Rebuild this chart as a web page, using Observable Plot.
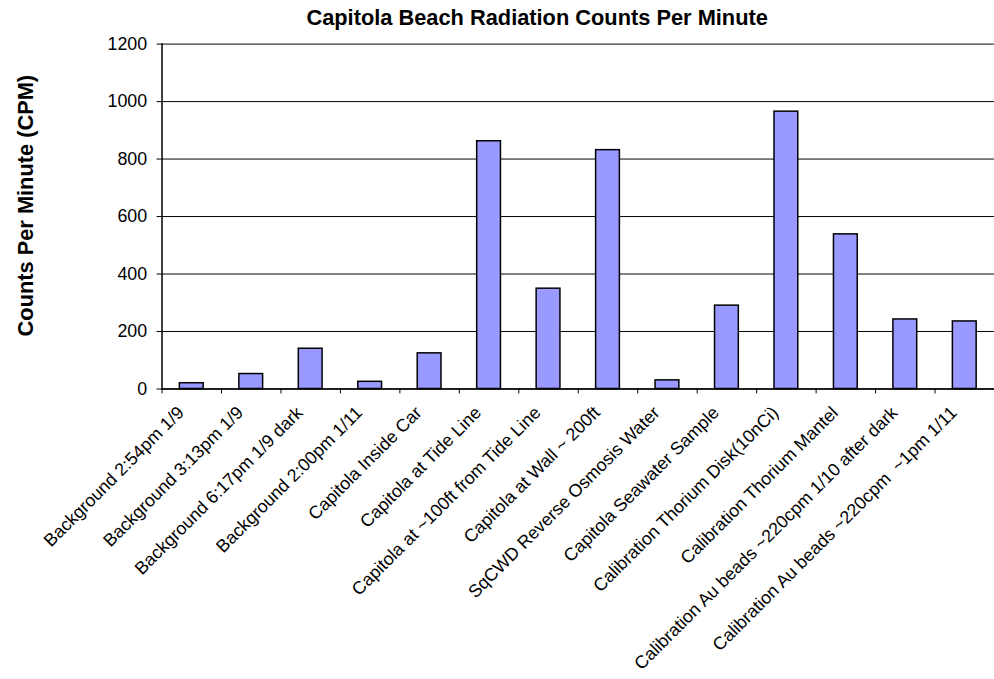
<!DOCTYPE html>
<html>
<head>
<meta charset="utf-8">
<script src="https://cdn.jsdelivr.net/npm/d3@7"></script>
<script src="https://cdn.jsdelivr.net/npm/@observablehq/plot@0.6"></script>
<style>
  html, body { margin: 0; padding: 0; background: #fff; overflow: hidden; }
  #chart svg text { white-space: pre; }
</style>
</head>
<body>
<div id="chart"></div>
<script>
const titleText = "Capitola Beach Radiation Counts Per Minute";
const yLabelText = "Counts Per Minute (CPM)";
const categories = [
  "Background 2:54pm 1/9",
  "Background 3:13pm 1/9",
  "Background 6:17pm 1/9 dark",
  "Background 2:00pm 1/11",
  "Capitola Inside Car",
  "Capitola at Tide Line",
  "Capitola at ~100ft from Tide Line",
  "Capitola at Wall ~ 200ft",
  "SqCWD Reverse Osmosis Water",
  "Capitola Seawater Sample",
  "Calibration Thorium Disk(10nCi)",
  "Calibration Thorium Mantel",
  "Calibration Au beads ~220cpm 1/10 after dark",
  "Calibration Au beads ~220cpm  ~1pm 1/11"
];
const cpm = [20, 52, 140, 25, 124, 862, 349, 831, 30, 290, 965, 538, 242, 235];
const yTicks = [0, 200, 400, 600, 800, 1000, 1200];

const data = categories.map((c, i) => ({label: c, cpm: cpm[i]}));

const W = 1003, H = 679, ML = 163, MR = 0, MT = 44, MB = 287;
const band = (W - ML - MR) / categories.length;

const chart = Plot.plot({
  width: W,
  height: H,
  marginLeft: ML,
  marginRight: MR,
  marginTop: MT,
  marginBottom: MB,
  style: {fontFamily: "'Liberation Sans', Arial, sans-serif", fontSize: "18px", color: "#000", background: "#fff", overflow: "visible"},
  x: {domain: categories, paddingInner: 0.6, paddingOuter: 0.3, axis: null},
  y: {domain: [0, 1200], axis: null},
  marks: [
    Plot.gridY(yTicks, {stroke: "#000", strokeOpacity: 1, strokeWidth: 1}),
    Plot.barY(data, {x: "label", y: "cpm", fill: "#9999FF", stroke: "#000", strokeWidth: 1.5}),
    Plot.frame({anchor: "left", stroke: "#000", strokeWidth: 1.5}),
    Plot.ruleY([0], {stroke: "#000", strokeWidth: 1.5}),
    Plot.axisY(yTicks, {tickSize: 5, tickPadding: 10, fontSize: 18, stroke: "#000", label: null, tickFormat: d => String(d)}),
    Plot.axisX({tickSize: 5, dx: -band / 2, tickFormat: () => "", stroke: "#000", label: null}),
    Plot.text(categories, {x: d => d, frameAnchor: "bottom", rotate: -45, textAnchor: "end", lineAnchor: "middle", dx: -11, dy: 21, fontSize: 18}),
    Plot.text([titleText], {frameAnchor: "top", textAnchor: "middle", lineAnchor: "middle", dx: -41.5, dy: -26, fontSize: 22, fontWeight: "bold"}),
    Plot.text([yLabelText], {frameAnchor: "left", rotate: -90, textAnchor: "middle", lineAnchor: "middle", dx: -137, dy: -11, fontSize: 22, fontWeight: "bold"})
  ]
});
document.getElementById("chart").appendChild(chart);
</script>
</body>
</html>
